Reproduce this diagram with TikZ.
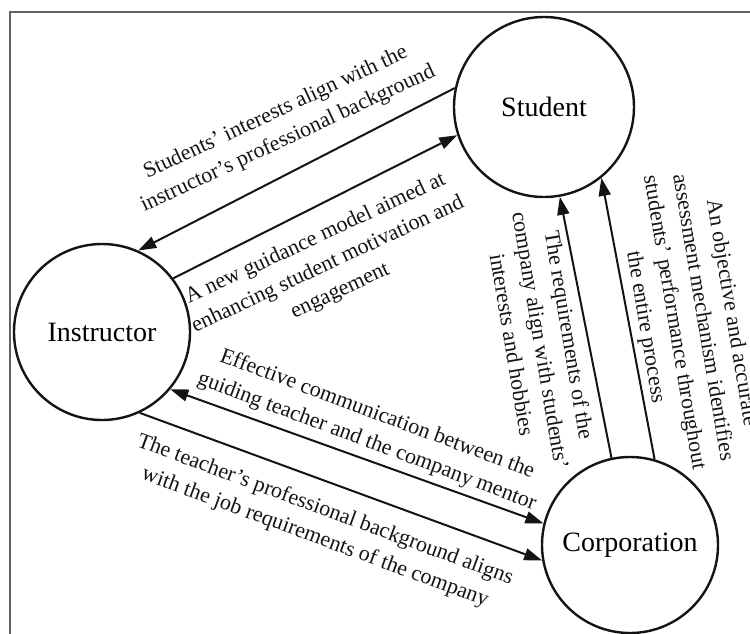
\documentclass[tikz,border=0pt]{standalone}
\usepackage{fontspec}
\setmainfont{Liberation Serif}
\usetikzlibrary{arrows.meta}
\definecolor{ink}{RGB}{20,20,20}
\definecolor{framegray}{RGB}{100,100,100}
\tikzset{
  party/.style={circle,draw=ink,line width=1.2pt,minimum size=88pt,inner sep=0pt,
    font=\fontsize{14}{16}\selectfont},
  lbl/.style={font=\fontsize{11}{14.5}\selectfont,align=center,inner sep=0pt,text=ink},
  arr/.style={-{Triangle[length=9pt,width=6pt]},line width=1pt,draw=ink},
  darr/.style={{Triangle[length=9pt,width=6pt]}-{Triangle[length=9pt,width=6pt]},
    line width=1pt,draw=ink},
}

\begin{document}
\begin{tikzpicture}[x=0.5pt,y=-0.5pt]
\useasboundingbox (0,0) rectangle (750,633);
\draw[framegray,line width=1pt] (9.5,12) rectangle (770,660);
% the three parties
\node[party,minimum size=90pt] (stu) at (544,107) {Student};
\node[party] (ins) at (102,332) {Instructor};
\node[party] (cor) at (630,545) {Corporation};
% connectors
\draw[arr] (stu.168) -- (ins.66);
\draw[arr] (ins.37) -- (stu.198);
\draw[darr] (ins.-40) -- (cor.166);
\draw[arr] (ins.-65) -- (cor.190);
\draw[arr] (cor.102) -- (stu.-80);
\draw[arr] (cor.74) -- (stu.-51);
% labels
\node[lbl,rotate=25] (lstu) at (282,126)
  {Students' interests align with the\\instructor's professional background};
\node[lbl,rotate=25] (lmod) at (328,265)
  {A new guidance model aimed at\\enhancing student motivation and\\engagement};
\node[lbl,rotate=-20.5] (lcom) at (372,428)
  {Effective communication between the\\guiding teacher and the company mentor};
\node[lbl,rotate=-20.3] (lbkg) at (320,524)
  {The teacher's professional background aligns\\with the job requirements of the company};
\node[lbl,rotate=-80.5] (lreq) at (541,340)
  {The requirements of the\\company align with students'\\interests and hobbies};
\node[lbl,rotate=-80.5] (lass) at (688,320)
  {An objective and accurate\\assessment mechanism identifies\\students' performance throughout\\the entire process};
\end{tikzpicture}
\end{document}
